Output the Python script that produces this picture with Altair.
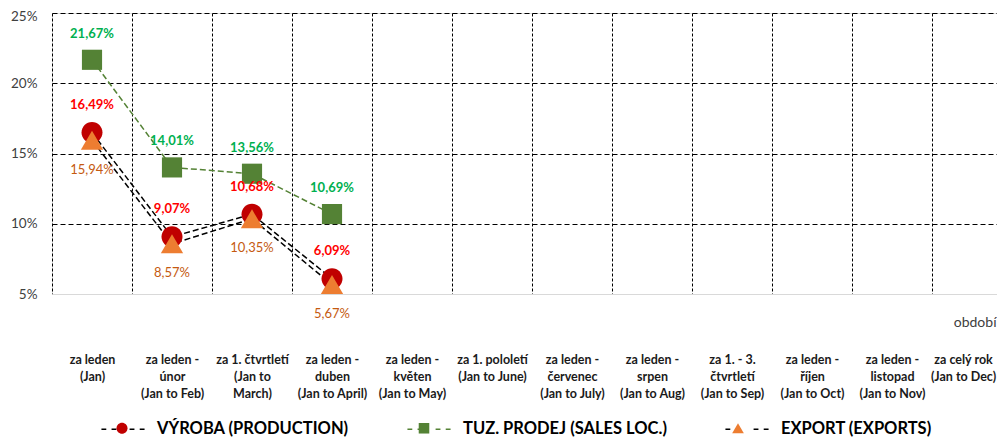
import json
import altair as alt
import pandas as pd

# ---------------- data ----------------
categories = [
    "za leden|(Jan)",
    "za leden -|únor|(Jan to Feb)",
    "za 1. čtvrtletí|(Jan to|March)",
    "za leden -|duben|(Jan to April)",
    "za leden -|květen|(Jan to May)",
    "za 1. pololetí|(Jan to June)",
    "za leden -|červenec|(Jan to July)",
    "za leden -|srpen|(Jan to Aug)",
    "za 1. - 3.|čtvrtletí|(Jan to Sep)",
    "za leden -|říjen|(Jan to Oct)",
    "za leden -|listopad|(Jan to Nov)",
    "za celý rok|(Jan to Dec)",
]
production = [16.49, 9.07, 10.68, 6.09]
sales = [21.67, 14.01, 13.56, 10.69]
exports = [15.94, 8.57, 10.35, 5.67]
series_names = ["VÝROBA (PRODUCTION)", "TUZ. PRODEJ (SALES LOC.)", "EXPORT (EXPORTS)"]
y_ticks = [5, 10, 15, 20, 25]

# ---------------- styles ----------------
marker_colors = ["#C00000", "#548235", "#ED7D31"]
line_colors = ["#000000", "#548235", "#000000"]
label_colors = ["#FF0000", "#00B050", "#C55A11"]
label_dy = [-27.5, -26, 29.5]
label_weight = ["bold", "bold", "normal"]
marker_paths = [
    "M-0.25,0 A0.25,0.25 0 1,0 0.25,0 A0.25,0.25 0 1,0 -0.25,0 Z",
    "M-0.24,-0.24 L0.24,-0.24 L0.24,0.24 L-0.24,0.24 Z",
    "M0,-0.226 L0.265,0.226 L-0.265,0.226 Z",
]
dash_path = "M-0.98,0 L-0.76,0 M-0.52,0 L-0.30,0 M0.30,0 L0.52,0 M0.76,0 L0.98,0"
FONT = "Lato"
PLOT_W = 945          # plot width in px; 80 px per category
CAT_W = 80

rows = []
for s, vals in zip(series_names, [production, sales, exports]):
    for i, v in enumerate(vals):
        rows.append({
            "series": s, "series2": s + " ", "idx": i + 0.5, "value": v,
            "label": f"{v:.2f}".replace(".", ",") + "%",
        })
df = pd.DataFrame(rows)

cat_array = json.dumps(categories, ensure_ascii=False)
last = len(categories) - 1

x_enc = alt.X(
    "idx:Q",
    scale=alt.Scale(domain=[0, PLOT_W / CAT_W], nice=False, zero=False),
    axis=alt.Axis(
        values=list(range(len(categories))),
        grid=True, gridColor="#000000", gridDash=[3, 2], gridWidth=1,
        ticks=False, domain=True, domainColor="#D9D9D9", domainWidth=1,
        labelOffset={"condition": {"test": f"datum.value == {last}", "value": 31}, "value": 40},
        labelPadding=59,
        labelExpr=f"split({cat_array}[datum.value], '|')",
        labelFont=FONT, labelFontSize=12.5, labelFontWeight="bold",
        labelColor="#1a1a1a", labelLineHeight=17, labelBaseline="top",
        labelOverlap=False, labelFlush=False, labelAlign="center", labelLimit=0,
        title="období", titleX=944, titleY=28, titleAlign="right",
        titleBaseline="middle", titleFont=FONT, titleFontSize=14,
        titleFontWeight="normal", titleColor="#404040",
    ),
)
y_enc = alt.Y(
    "value:Q",
    scale=alt.Scale(domain=[5, 25], nice=False, zero=False),
    axis=alt.Axis(
        values=y_ticks, grid=True,
        gridColor={"condition": {"test": "datum.value == 5", "value": "#D9D9D9"}, "value": "#000000"},
        gridDash={"condition": {"test": "datum.value == 5", "value": []}, "value": [5, 3]},
        gridWidth=1, domain=False, ticks=False,
        labelExpr="datum.value + '%'", labelPadding=15,
        labelOffset={"condition": {"test": "datum.value == 25", "value": 3}, "value": 0},
        labelFont=FONT, labelFontSize=13.5, labelColor="#404040", title=None,
    ),
)

legend_common = dict(
    title=None, orient="none", legendX=48, legendY=393, direction="horizontal",
    columns=3, symbolSize=1936, labelFont=FONT, labelFontSize=16.5,
    labelFontWeight="bold", labelOffset=11, columnPadding=55, padding=0,
    labelBaseline="middle", labelLimit=0,
)

lines = alt.Chart(df).mark_line(strokeDash=[6, 3], strokeWidth=1.5).encode(
    x=x_enc, y=y_enc,
    stroke=alt.Stroke(
        "series:N",
        scale=alt.Scale(domain=series_names, range=line_colors),
        legend=alt.Legend(symbolType=dash_path, symbolStrokeWidth=1.5,
                          symbolFillColor="transparent", symbolDash=[100, 0],
                          labelColor="#000000", **legend_common),
    ),
)

pt_legend = alt.Legend(symbolStrokeWidth=0, labelColor="transparent",
                       labelExpr="trim(datum.label)", **legend_common)
points = alt.Chart(df).mark_point(filled=True, size=7056, opacity=1, strokeWidth=0).encode(
    x=x_enc, y=y_enc,
    fill=alt.Fill("series2:N", scale=alt.Scale(domain=[s + " " for s in series_names], range=marker_colors),
                  legend=pt_legend),
    shape=alt.Shape("series2:N", scale=alt.Scale(domain=[s + " " for s in series_names], range=marker_paths),
                    legend=pt_legend),
)

texts = []
for s, c, dy, w in zip(series_names, label_colors, label_dy, label_weight):
    texts.append(
        alt.Chart(df).transform_filter(alt.datum.series == s)
        .mark_text(dy=dy, fontSize=13, fontWeight=w, color=c, font=FONT)
        .encode(x=x_enc, y=y_enc, text="label:N")
    )

chart = alt.layer(lines, points, *texts).properties(
    width=PLOT_W, height=281, autosize="none",
    padding={"left": 44, "top": 5, "right": 0, "bottom": 144},
).configure_view(stroke=None).configure(background="white")

chart.save("out.html", embed_options={"renderer": "svg", "actions": False})
